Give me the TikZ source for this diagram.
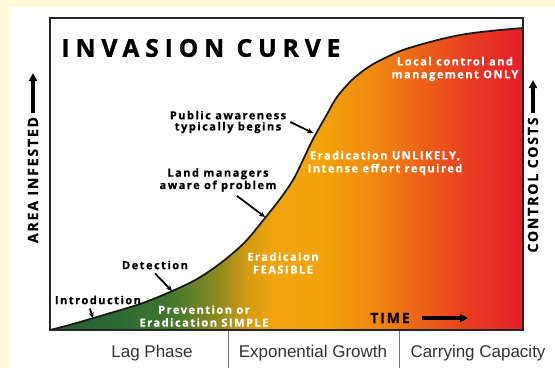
\documentclass[tikz,border=0pt]{standalone}
\usepackage{fontspec}
\setmainfont{Liberation Sans}
\newfontfamily\labfont[LetterSpace=13, BoldFeatures={FakeBold=0.5}]{Open Sans}
\newfontfamily\titlefont[LetterSpace=24, BoldFeatures={FakeBold=1.2}]{Open Sans}
\usetikzlibrary{arrows.meta}
\definecolor{cream}{HTML}{FFF9DA}
\definecolor{gr1}{HTML}{275C32}
\definecolor{gr2}{HTML}{2E6A34}
\definecolor{gr3}{HTML}{44782E}
\definecolor{gr4}{HTML}{8C8A1E}
\definecolor{gr5}{HTML}{D49A12}
\definecolor{gr6}{HTML}{F0A510}
\definecolor{gr7}{HTML}{F2A20A}
\definecolor{gr8}{HTML}{F08A10}
\definecolor{gr9}{HTML}{EC6018}
\definecolor{gr10}{HTML}{E83A22}
\definecolor{gr11}{HTML}{E41E2C}
\pgfdeclarehorizontalshading{invasion}{100bp}{color(0bp)=(gr1); color(25bp)=(gr1); color(32.7bp)=(gr2); color(38bp)=(gr3); color(42.7bp)=(gr4); color(45.8bp)=(gr5); color(48.6bp)=(gr6); color(53.9bp)=(gr7); color(59.1bp)=(gr8); color(64.4bp)=(gr9); color(69.7bp)=(gr10); color(75bp)=(gr11); color(100bp)=(gr11)}
\tikzstyle{annot}=[align=center, font=\labfont\bfseries\fontsize{9.5}{9.5}\selectfont, text=black]
\tikzstyle{wannot}=[annot, text=white, font=\labfont\bfseries\fontsize{9.5}{11}\selectfont]
\tikzstyle{pointer}=[line width=1.5pt, black, -{Stealth[length=5pt,width=4.5pt]}]
\tikzstyle{axisarrow}=[line width=2.8pt, -{Triangle[length=7pt,width=7pt]}]
\tikzstyle{axislabel}=[font=\labfont\bfseries\fontsize{12}{12}\selectfont, text=black]
\tikzstyle{phase}=[font=\fontsize{14.5}{15}\selectfont, text=black!80]
\newcommand{\invcurve}[0]
{
  plot[smooth, tension=0.55] coordinates {(50,330) (73,324) (107,314) (140,304) (170,292) (197,279) (222,262) (245,242) (265,218) (280,199) (293,180) (303,160) (311,143) (318,130) (326,116) (337,97) (353,79) (370,66) (387,57) (403,50) (430,42) (460,35) (490,31) (523,28)}
}

\begin{document}
\begin{tikzpicture}[x=0.03cm, y=-0.03cm]
	\useasboundingbox (0,0) rectangle (555,368);
	\fill[cream] (0,0) rectangle (555,368);
	\fill[white] (9,7) rectangle (555,368);

	% area under the curve
	\fill[shading=invasion] \invcurve{} -- (523,330) -- (50,330) -- cycle;
	\draw[line width=1.5pt, black!90] \invcurve{};
	\draw[line width=1.7pt, black!85] (50,18) rectangle (523,330);

	\coordinate (cintro) at (93,318);
	\coordinate (cdetect) at (172,291);
	\coordinate (cland) at (265,217);
	\coordinate (cpublic) at (313,133);

	\node[font=\titlefont\bfseries\fontsize{21}{21}\selectfont, text=black] (title) at (201,48) {INVASION CURVE};

	\node[annot] (introduction) at (98,300) {Introduction};
	\node[annot] (detection) at (155,265) {Detection};
	\node[annot] (landmgr) at (218,180) {Land managers\\aware of problem};
	\node[annot] (pubaware) at (228,122) {Public awareness\\typically begins};

	\node[wannot] (prevention) at (204,316) {Prevention or\\Eradication SIMPLE};
	\node[wannot] (feasible) at (283,263) {Eradicaion\\FEASIBLE};
	\node[wannot] (unlikely) at (385,163) {Eradication UNLIKELY,\\Intense effort required};
	\node[wannot] (localctrl) at (455,69) {Local control and\\management ONLY};

	\draw[pointer] ([xshift=-7pt]introduction.south) -- (cintro);
	\draw[pointer] (detection.south) -- (cdetect);
	\draw[pointer] (landmgr.-40) -- (cland);
	\draw[pointer] (pubaware.east) -- (cpublic);

	% axes
	\node[axislabel] (timelabel) at (390,318) {TIME};
	\coordinate (timetip) at (468,318);
	\draw[axisarrow, shorten <=7pt] (timelabel) -- (timetip);

	\node[axislabel, rotate=90] (arealabel) at (33,180) {AREA INFESTED};
	\coordinate (areatip) at (33,73);
	\draw[axisarrow] (arealabel) -- (areatip);

	\node[axislabel, rotate=90] (costslabel) at (533,185) {CONTROL COSTS};
	\coordinate (coststip) at (533,80);
	\draw[axisarrow] (costslabel) -- (coststip);

	% phases
	\draw[black!55, line width=0.7pt] (228,331) -- (228,368);
	\draw[black!55, line width=0.7pt] (399,331) -- (399,368);
	\node[phase] (lag) at (152,353) {Lag Phase};
	\node[phase] (expo) at (313,353) {Exponential Growth};
	\node[phase] (carry) at (478,353) {Carrying Capacity};
\end{tikzpicture}
\end{document}
